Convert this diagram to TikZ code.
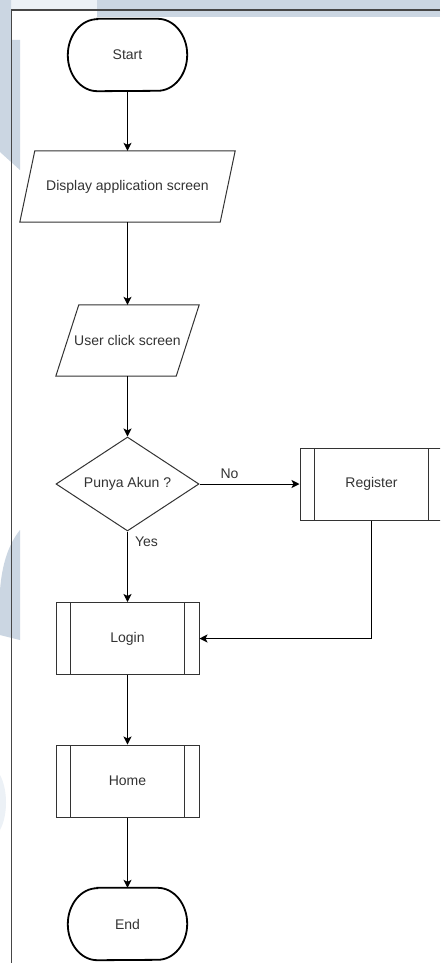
\documentclass[tikz,border=0pt]{standalone}
\usepackage{fontspec}
\setmainfont{Liberation Sans}
\usetikzlibrary{arrows.meta,shapes.geometric}

\definecolor{wmblue}{RGB}{203,214,226}
\definecolor{wmpale}{RGB}{236,241,246}
\definecolor{ink}{RGB}{51,51,51}
\definecolor{framegray}{RGB}{70,70,70}

% outline of a terminator: straight top and bottom, half-ellipse ends
\newcommand{\terminatorframe}[1]{%
  \draw[termline] ([xshift=29.5pt]#1.north west) -- ([xshift=-29.5pt]#1.north east)
    arc[start angle=90, end angle=-90, x radius=29.5pt, y radius=36pt]
    -- ([xshift=29.5pt]#1.south west)
    arc[start angle=270, end angle=90, x radius=29.5pt, y radius=36pt] -- cycle;}

\begin{document}
\begin{tikzpicture}[x=1pt,y=-1pt,
  every node/.style={font=\fontsize{14pt}{16pt}\selectfont, text=ink},
  term/.style={minimum width=119pt, minimum height=72pt, inner sep=0pt},
  termline/.style={draw=black, line width=1.8pt},
  iobox/.style={minimum height=71pt, inner sep=0pt},
  outline/.style={draw=ink, line width=1pt},
  subproc/.style={draw=ink, line width=1pt, minimum width=143pt,
    minimum height=72pt, inner sep=0pt,
    path picture={\draw[ink, line width=1pt]
      ([xshift=14.5pt]path picture bounding box.north west) --
      ([xshift=14.5pt]path picture bounding box.south west)
      ([xshift=-14.5pt]path picture bounding box.north east) --
      ([xshift=-14.5pt]path picture bounding box.south east);}},
  decision/.style={draw=ink, line width=1pt, diamond, aspect=1.52,
    minimum width=143pt, minimum height=94pt, inner sep=0pt},
  flow/.style={draw=black, line width=1pt,
    -{Stealth[length=8pt,width=8pt,inset=2pt]}},
  lbl/.style={inner sep=1pt}
]
\useasboundingbox (0,0) rectangle (440,963);
\clip (0,0) rectangle (440,963);

% page background and faint watermark patches
\fill[white] (0,0) rectangle (440,963);
\fill[wmpale] (11,0) rectangle (97,10);
\fill[wmblue] (97,0) rectangle (440,17);
\fill[wmblue] (0,0) -- (11,0) -- (11,40) -- (20,40) -- (20,170) -- (0,152) -- cycle;
\fill[wmblue] (20,530) .. controls (8,545) and (2,565) .. (0,590) -- (0,635) -- (20,640) -- cycle;
\fill[wmpale] (0,775) .. controls (8,790) and (8,815) .. (0,830) -- cycle;

% page frame
\draw[framegray, line width=1.3pt] (440,10) -- (11.5,10) -- (11.5,963);

% flowchart nodes
\node[term] (start) at (127.5,55) {Start};
\node[iobox, minimum width=215pt] (disp) at (127.5,186.5) {Display application screen};
\node[iobox, minimum width=143pt] (click) at (127.5,340.5) {User click screen};
\node[decision] (ask) at (127.5,484) {Punya Akun ?};
\node[subproc] (reg) at (371.5,484) {Register};
\node[subproc] (login) at (127.5,638.5) {Login};
\node[subproc] (home) at (127.5,781) {Home};
\node[term] (finish) at (127.5,924) {End};

% terminator outlines
\terminatorframe{start}
\terminatorframe{finish}

% parallelogram outlines of the input/output steps
\draw[outline] ([xshift=15pt]disp.north west) -- (disp.north east) --
  ([xshift=-15pt]disp.south east) -- (disp.south west) -- cycle;
\draw[outline] ([xshift=23pt]click.north west) -- (click.north east) --
  ([xshift=-23pt]click.south east) -- (click.south west) -- cycle;

% connectors
\draw[flow] (start.south) -- (disp.north);
\draw[flow] (disp.south) -- (click.north);
\draw[flow] (click.south) -- (ask.north);
\draw[flow] (ask.east) -- node[lbl, pos=0.3, above=4pt] {No} (reg.west);
\draw[flow] (ask.south) -- node[lbl, pos=0.15, anchor=west, xshift=6pt] {Yes} (login.north);
\draw[flow] (reg.south) |- (login.east);
\draw[flow] (login.south) -- (home.north);
\draw[flow] (home.south) -- (finish.north);
\end{tikzpicture}
\end{document}
